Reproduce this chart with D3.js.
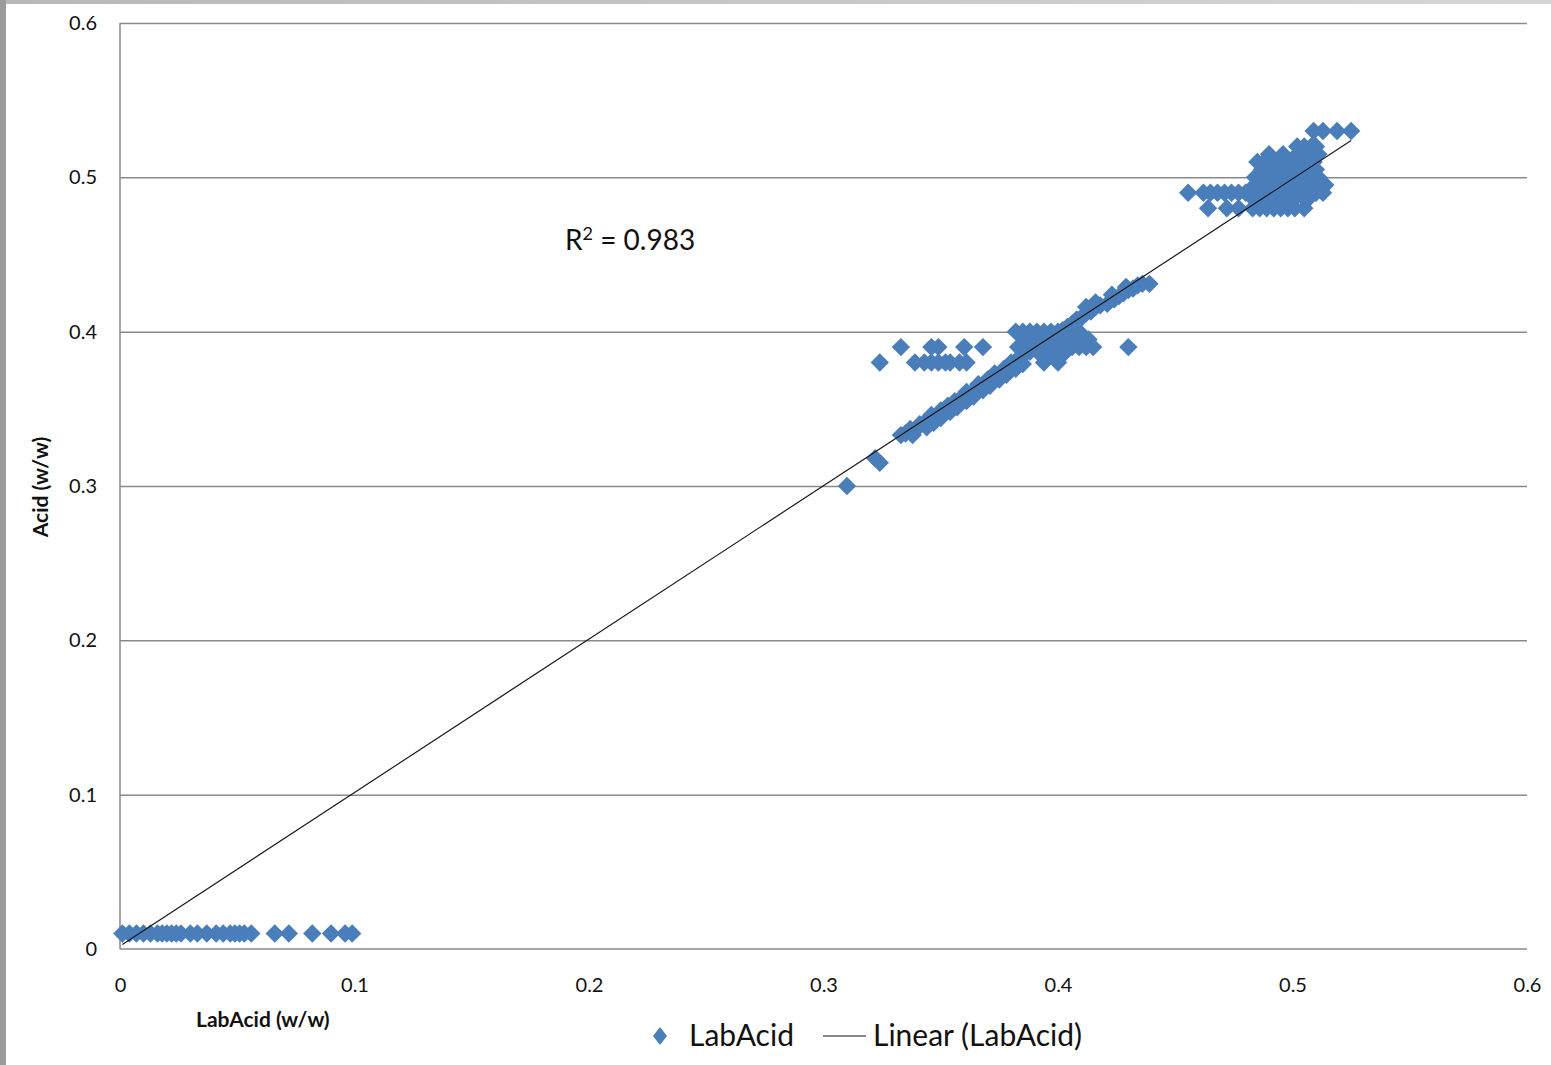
<!DOCTYPE html>
<html>
<head>
<meta charset="utf-8">
<script src="https://cdn.jsdelivr.net/npm/d3@7"></script>
<style>
  html, body { margin: 0; padding: 0; background: #fff; }
  svg { display: block; }
  text { font-family: Lato, "Open Sans", sans-serif; fill: #111; }
</style>
</head>
<body>
<svg id="chart" width="1551" height="1065"></svg>
<script>
// ---- data: LabAcid (x) vs Acid (y), both w/w ----
const seriesName = "LabAcid";
const trendName = "Linear (LabAcid)";

// samples near zero acid
const lowGroup = [
  [0.001,0.01],[0.004,0.01],[0.007,0.01],[0.010,0.01],[0.013,0.01],[0.016,0.01],
  [0.018,0.01],[0.020,0.01],[0.022,0.01],[0.024,0.01],[0.026,0.01],[0.030,0.01],
  [0.033,0.01],[0.037,0.01],[0.041,0.01],[0.044,0.01],[0.047,0.01],[0.049,0.01],
  [0.051,0.01],[0.053,0.01],[0.056,0.01],[0.066,0.01],[0.072,0.01],[0.082,0.01],
  [0.090,0.01],[0.096,0.01],[0.099,0.01]
];

// samples around 0.30 - 0.44
const midGroup = [
  [0.310,0.300],[0.322,0.318],[0.324,0.315],
  // 0.38 row
  [0.324,0.38],[0.339,0.38],[0.343,0.38],[0.346,0.38],[0.349,0.38],[0.352,0.38],
  [0.354,0.38],[0.358,0.38],[0.361,0.38],[0.394,0.38],[0.400,0.38],
  // 0.39 row
  [0.333,0.39],[0.346,0.39],[0.349,0.39],[0.360,0.39],[0.368,0.39],
  [0.383,0.39],[0.386,0.39],[0.389,0.39],[0.396,0.39],
  [0.400,0.39],[0.403,0.39],[0.406,0.39],[0.409,0.39],[0.412,0.39],[0.415,0.39],[0.430,0.39],
  [0.392,0.395],[0.398,0.385],[0.404,0.395],[0.410,0.395],
  [0.386,0.395],[0.398,0.395],[0.407,0.395],[0.413,0.395],[0.402,0.385],[0.396,0.385],
  // 0.40 row
  [0.382,0.40],[0.385,0.40],[0.388,0.40],[0.391,0.40],[0.394,0.40],[0.397,0.40],
  [0.400,0.40],[0.403,0.40],[0.406,0.40],[0.409,0.40],
  // main band
  [0.333,0.333],[0.335,0.334],[0.337,0.337],[0.339,0.336],[0.341,0.340],[0.343,0.341],
  [0.345,0.343],[0.346,0.346],[0.348,0.345],[0.350,0.349],[0.351,0.347],[0.353,0.352],
  [0.355,0.352],[0.356,0.355],[0.358,0.356],[0.360,0.358],[0.361,0.361],[0.363,0.360],
  [0.365,0.363],[0.366,0.366],[0.368,0.365],[0.370,0.369],[0.372,0.370],[0.373,0.373],
  [0.375,0.372],[0.377,0.376],[0.379,0.377],[0.380,0.380],[0.382,0.381],[0.384,0.383],
  [0.386,0.386],[0.388,0.387],[0.390,0.390],[0.392,0.391],[0.394,0.394],[0.396,0.395],
  [0.398,0.398],[0.400,0.397],[0.402,0.401],[0.404,0.403],[0.406,0.405],[0.408,0.408],
  [0.410,0.409],[0.412,0.412],[0.414,0.413],[0.416,0.416],[0.418,0.417],[0.421,0.418],
  [0.424,0.421],[0.426,0.423],[0.428,0.425],[0.430,0.427],[0.432,0.428],[0.434,0.430],
  [0.436,0.431],[0.439,0.431],
  [0.338,0.333],[0.344,0.338],[0.350,0.344],[0.357,0.351],[0.364,0.358],[0.371,0.365],
  [0.378,0.372],[0.385,0.379],[0.392,0.386],
  [0.347,0.341],[0.354,0.348],[0.361,0.355],[0.368,0.362],[0.375,0.369],[0.382,0.376],
  [0.412,0.416],[0.416,0.419],[0.423,0.424],[0.429,0.429]
];

// samples around 0.46 - 0.53
const highGroup = [
  [0.509,0.53],[0.513,0.53],[0.519,0.53],[0.525,0.53],
  [0.502,0.52],[0.505,0.52],[0.508,0.52],[0.510,0.52],
  [0.485,0.51],[0.488,0.51],[0.491,0.51],[0.494,0.51],[0.497,0.51],[0.500,0.51],
  [0.503,0.51],[0.506,0.51],[0.509,0.51],
  [0.484,0.50],[0.487,0.50],[0.490,0.50],[0.493,0.50],[0.496,0.50],[0.499,0.50],
  [0.502,0.50],[0.505,0.50],[0.508,0.50],[0.511,0.50],
  [0.4555,0.49],[0.462,0.49],[0.465,0.49],[0.468,0.49],[0.471,0.49],[0.474,0.49],
  [0.477,0.49],[0.480,0.49],[0.483,0.49],[0.486,0.49],[0.489,0.49],[0.492,0.49],
  [0.495,0.49],[0.498,0.49],[0.501,0.49],[0.504,0.49],[0.507,0.49],[0.510,0.49],[0.513,0.49],
  [0.464,0.48],[0.472,0.48],[0.477,0.48],[0.483,0.48],[0.486,0.48],[0.489,0.48],
  [0.492,0.48],[0.495,0.48],[0.498,0.48],[0.501,0.48],[0.505,0.48],
  // in-between readings
  [0.490,0.515],[0.496,0.515],[0.502,0.515],[0.505,0.515],[0.508,0.515],[0.511,0.515],
  [0.487,0.505],[0.493,0.505],[0.499,0.505],[0.505,0.505],[0.510,0.505],
  [0.484,0.495],[0.487,0.495],[0.493,0.495],[0.499,0.495],[0.505,0.495],[0.511,0.495],[0.514,0.495],
  [0.484,0.485],[0.490,0.485],[0.496,0.485],[0.500,0.485],[0.506,0.485]
];

// linear trendline fitted to the series
const trendSlope = 0.994;
const trendIntercept = 0.002;
const rSquared = "0.983";

const xTickValues = [0, 0.1, 0.2, 0.3, 0.4, 0.5, 0.6];
const yTickValues = [0, 0.1, 0.2, 0.3, 0.4, 0.5, 0.6];
const xTitle = "LabAcid (w/w)";
const yTitle = "Acid (w/w)";

// ---- layout ----
const svg = d3.select("#chart");
const W = 1551, H = 1065;
const plot = { left: 120, right: 1527, top: 23, bottom: 949 };

const x = d3.scaleLinear().domain([0, 0.6]).range([plot.left, plot.right]);
const y = d3.scaleLinear().domain([0, 0.6]).range([plot.bottom, plot.top]);

const points = [...lowGroup, ...midGroup, ...highGroup];
const gray = "#8a8a8a";
const blue = "#4a7ebb";

// window frame edges
const defs = svg.append("defs");
const gTop = defs.append("linearGradient").attr("id", "frameTop").attr("x1", 0).attr("x2", 1).attr("y1", 0).attr("y2", 0);
gTop.append("stop").attr("offset", "0%").attr("stop-color", "#b8b8b8");
gTop.append("stop").attr("offset", "100%").attr("stop-color", "#d6d6d6");
svg.append("rect").attr("x", 0).attr("y", 0).attr("width", W).attr("height", 4).attr("fill", "url(#frameTop)");
svg.append("rect").attr("x", 0).attr("y", 0).attr("width", 6).attr("height", H).attr("fill", "#9b9b9b");

// horizontal gridlines
const yAxis = d3.axisLeft(y).tickValues(yTickValues).tickSize(-(plot.right - plot.left))
  .tickFormat(d => d3.format("~g")(d)).tickPadding(23);
const gy = svg.append("g").attr("transform", `translate(${plot.left},0)`).call(yAxis);
gy.select(".domain").remove();
gy.selectAll(".tick line").attr("stroke", gray).attr("stroke-width", 1.5)
  .attr("opacity", d => d === 0 ? 0 : 1);
gy.selectAll(".tick text").attr("font-size", 20).attr("fill", "#111")
  .style("font-family", "Lato, sans-serif");

// axis lines
svg.append("line").attr("x1", plot.left).attr("x2", plot.left).attr("y1", plot.top).attr("y2", plot.bottom)
  .attr("stroke", gray).attr("stroke-width", 1.5);
svg.append("line").attr("x1", plot.left).attr("x2", plot.right).attr("y1", plot.bottom).attr("y2", plot.bottom)
  .attr("stroke", gray).attr("stroke-width", 1.5);

// x tick labels
const xAxis = d3.axisBottom(x).tickValues(xTickValues).tickSize(0)
  .tickFormat(d => d3.format("~g")(d)).tickPadding(29);
const gx = svg.append("g").attr("transform", `translate(0,${plot.bottom})`).call(xAxis);
gx.select(".domain").remove();
gx.selectAll(".tick text").attr("font-size", 20).attr("fill", "#111")
  .style("font-family", "Lato, sans-serif");

// data markers (diamonds)
const diamond = d3.symbol().type(d3.symbolSquare).size(169);
svg.append("g").selectAll("path").data(points).join("path")
  .attr("d", diamond)
  .attr("transform", d => `translate(${x(d[0])},${y(d[1])}) rotate(45)`)
  .attr("fill", blue);

// trendline
const xExt = d3.extent(points, d => d[0]);
svg.append("line")
  .attr("x1", x(xExt[0])).attr("y1", y(trendSlope * xExt[0] + trendIntercept))
  .attr("x2", x(xExt[1])).attr("y2", y(trendSlope * xExt[1] + trendIntercept))
  .attr("stroke", "#1a1a1a").attr("stroke-width", 1.2);

// R² annotation
const r2 = svg.append("text").attr("x", 565).attr("y", 250).attr("font-size", 28);
r2.append("tspan").text("R");
r2.append("tspan").text("2").attr("font-size", 18).attr("dy", -10);
r2.append("tspan").text(" = " + rSquared).attr("dy", 10);

// axis titles
svg.append("text").attr("x", 196).attr("y", 1027).attr("font-size", 21).attr("font-weight", "bold")
  .text(xTitle);
svg.append("text").attr("transform", "translate(48,487) rotate(-90)").attr("text-anchor", "middle")
  .attr("font-size", 21).attr("font-weight", "bold").text(yTitle);

// legend
const lg = svg.append("g");
lg.append("path").attr("d", "M0,-9L7,0L0,9L-7,0Z").attr("transform", "translate(660,1036)").attr("fill", blue);
lg.append("text").attr("x", 689).attr("y", 1046).attr("font-size", 30).text(seriesName);
lg.append("line").attr("x1", 823).attr("x2", 866).attr("y1", 1036).attr("y2", 1036)
  .attr("stroke", "#111").attr("stroke-width", 1.2);
lg.append("text").attr("x", 873).attr("y", 1046).attr("font-size", 30).text(trendName);
</script>
</body>
</html>
